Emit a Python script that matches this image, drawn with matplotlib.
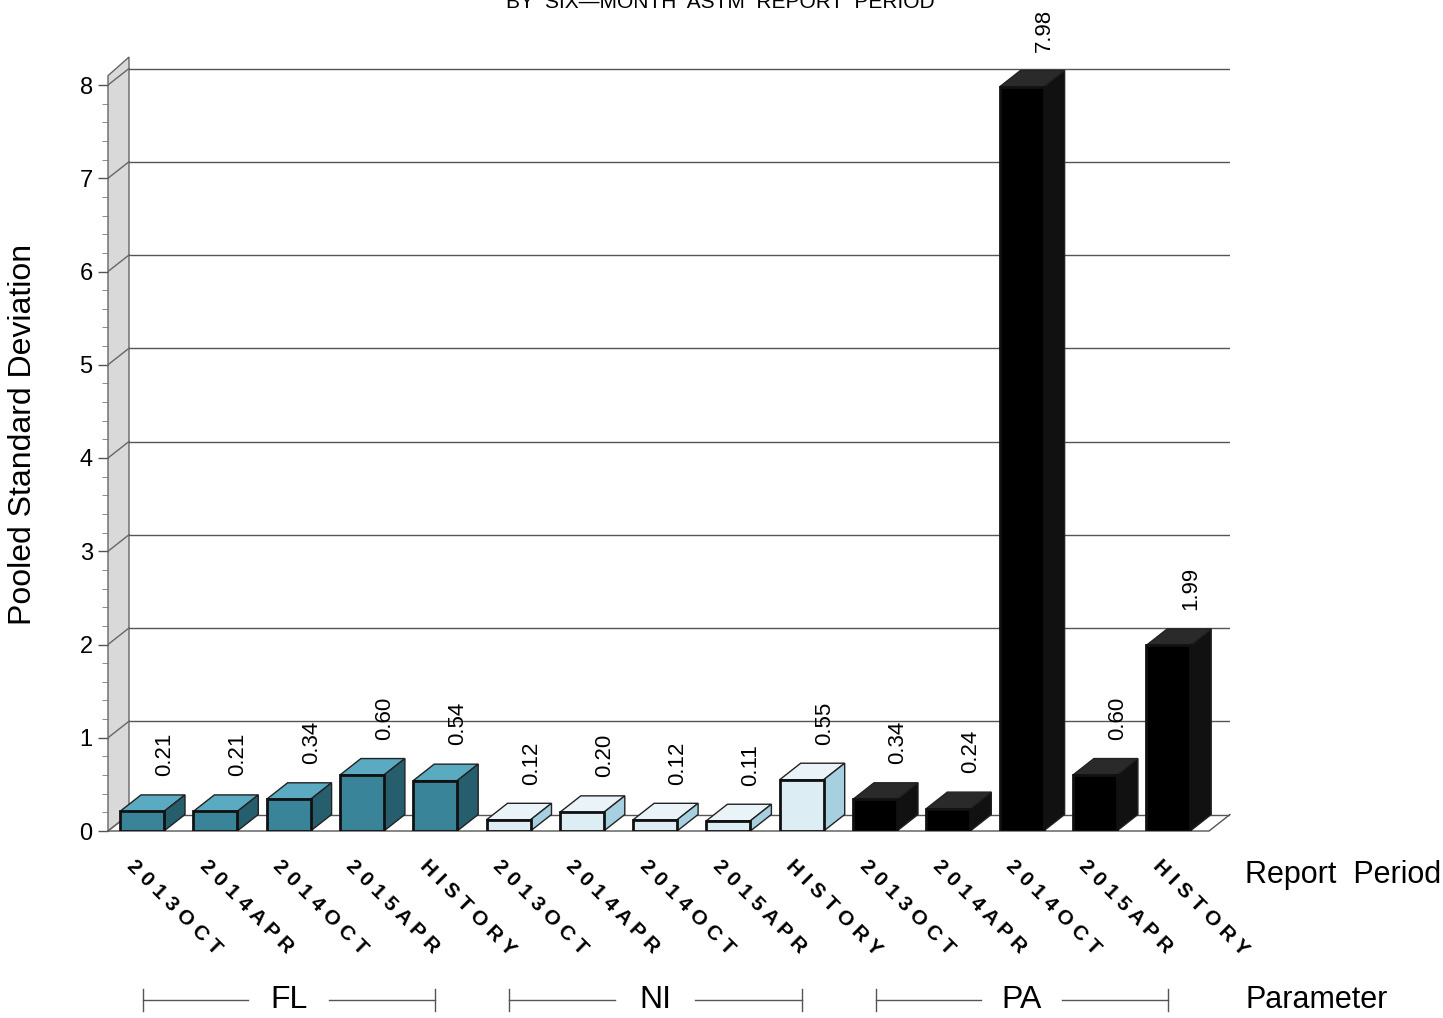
import matplotlib
matplotlib.use("Agg")
import matplotlib.pyplot as plt
from matplotlib.patches import Polygon

plt.rcParams['font.family'] = ['Liberation Sans', 'DejaVu Sans']

# data
periods = ["2013OCT", "2014APR", "2014OCT", "2015APR", "HISTORY"]
params = ["FL", "NI", "PA"]
values = {
    "FL": [0.21, 0.21, 0.34, 0.60, 0.54],
    "NI": [0.12, 0.20, 0.12, 0.11, 0.55],
    "PA": [0.34, 0.24, 7.98, 0.60, 1.99],
}
colors = {  # front, top, side
    "FL": ("#3a8499", "#5aaac2", "#275e6e"),
    "NI": ("#dcedf4", "#eaf4f8", "#a6cfe0"),
    "PA": ("#000000", "#2a2a2a", "#111111"),
}

W, H = 1443, 1018
fig = plt.figure(figsize=(W / 100, H / 100), dpi=100)
px_unit_x = 73.3
px_unit_y = 93.25
x_lo = -12 / px_unit_x
x_hi = (1230 - 120) / px_unit_x
y_hi = 8.5
ax = fig.add_axes([108 / W, (H - 831) / H, (1230 - 108) / W, y_hi * px_unit_y / H])
ax.set_xlim(x_lo, x_hi)
ax.set_ylim(0, y_hi)

dx = 21 / px_unit_x
dy = 16.5 / px_unit_y
bw = 44 / px_unit_x

for s in ax.spines.values():
    s.set_visible(False)
ax.set_xticks([])
ax.set_yticks(range(0, 9))
ax.set_yticks([k * 0.2 for k in range(41)], minor=True)
ax.tick_params(axis='y', labelsize=17, length=7, width=1, color="#555555", pad=4)
ax.tick_params(axis='y', which='minor', length=4, color="#777777")
ax.set_ylabel("Pooled Standard Deviation", fontsize=23, labelpad=30)

# left wall and floor
ax.add_patch(Polygon([(x_lo, 0), (x_lo + dx, dy), (x_lo + dx, 8.3), (x_lo, 8.1)],
                     closed=True, facecolor="#d9d9d9", edgecolor="#666666", lw=1, clip_on=False))
ax.plot([x_lo, x_hi - dx, x_hi], [0, 0, dy], color="#555555", lw=1, clip_on=False)
for k in range(0, 9):
    ax.plot([x_lo + dx, x_hi], [k + dy, k + dy], color="#555555", lw=1, zorder=1)
    ax.plot([x_lo, x_lo + dx], [k, k + dy], color="#666666", lw=1, zorder=1)

for g, p in enumerate(params):
    front, top, side = colors[p]
    for j, v in enumerate(values[p]):
        i = g * 5 + j
        x0, x1 = i, i + bw
        ax.add_patch(Polygon([(x0, v), (x0 + dx, v + dy), (x1 + dx, v + dy), (x1, v)],
                             closed=True, facecolor=top, edgecolor="#222222", lw=1, zorder=3))
        ax.add_patch(Polygon([(x1, 0), (x1 + dx, dy), (x1 + dx, v + dy), (x1, v)],
                             closed=True, facecolor=side, edgecolor="#222222", lw=1, zorder=3))
        ax.add_patch(Polygon([(x0, 0), (x1, 0), (x1, v), (x0, v)],
                             closed=True, facecolor=front, edgecolor="#111111", lw=2, zorder=4))
        ax.text(i + 0.61, v + dy + 0.2, f"{v:.2f}", rotation=90, ha='center', va='bottom',
                fontsize=16, zorder=5)
        ax.text(i + 0.22, -0.27, " ".join(periods[j]), rotation=-45, rotation_mode='anchor',
                ha='left', va='top', fontsize=15, fontweight='bold', clip_on=False)
    # parameter bracket
    base = g * 5
    yb = -1.81
    ax.plot([base + 0.31, base + 1.75], [yb, yb], color="#555555", lw=1, clip_on=False)
    ax.plot([base + 2.85, base + 4.3], [yb, yb], color="#555555", lw=1, clip_on=False)
    for xe in (base + 0.31, base + 4.3):
        ax.plot([xe, xe], [yb - 0.12, yb + 0.12], color="#555555", lw=1, clip_on=False)
    ax.text(base + 2.3, yb, p, ha='center', va='center', fontsize=23, clip_on=False)

fig.text(1245 / W, 1 - 875 / H, "Report  Period", fontsize=22, ha='left', va='center')
fig.text(1245 / W, 1 - 1000 / H, "Parameter", fontsize=22, ha='left', va='center')
fig.text(720 / W, 1 - 2 / H, "BY  SIX\u2014MONTH  ASTM  REPORT  PERIOD", fontsize=15,
         ha='center', va='center')

fig.savefig("out.png", dpi=100)
